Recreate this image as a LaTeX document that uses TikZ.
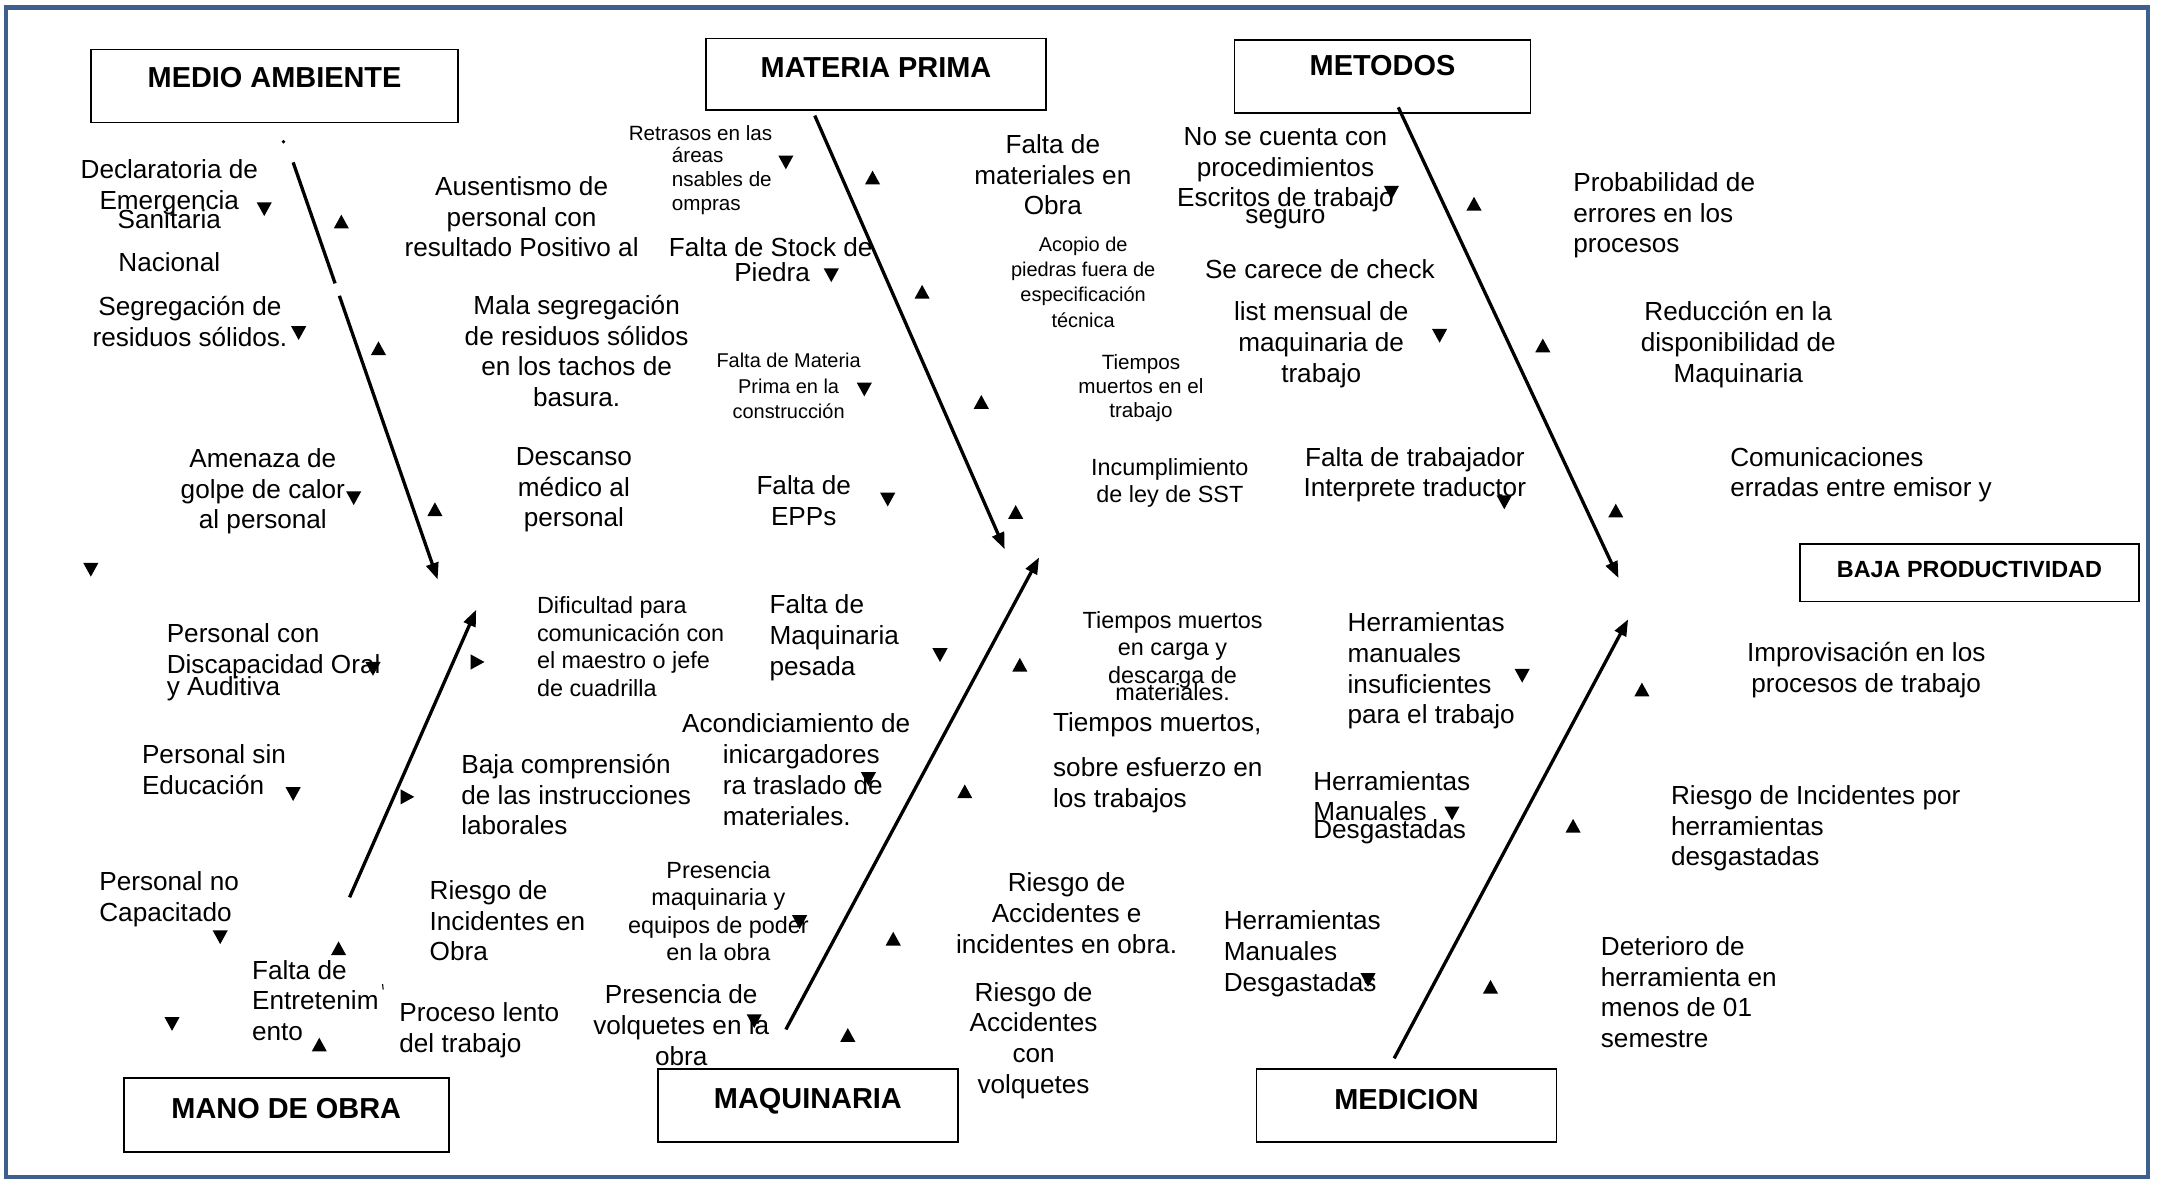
\documentclass[tikz,border=0pt]{standalone}
\usepackage{fontspec}
\setmainfont{Liberation Sans}
\usetikzlibrary{calc,arrows.meta}
\definecolor{framecol}{RGB}{62,96,143}
\begin{document}
\begin{tikzpicture}[x=1pt,y=-1pt,
  every node/.style={inner sep=0pt},
  tx/.style={font=\fontsize{19}{22.3}\selectfont, align=center, yshift=-1.5pt},
  txl/.style={tx, align=left, anchor=west},
  mtx/.style={font=\fontsize{17}{20}\selectfont, align=center, yshift=-1pt},
  mtxl/.style={mtx, align=left, anchor=west},
  stx/.style={font=\fontsize{15}{17.7}\selectfont, align=center, yshift=-1pt},
  stxl/.style={stx, align=left, anchor=west},
  xtx/.style={font=\fontsize{14.5}{18.3}\selectfont, align=center, yshift=-1pt},
  cat/.style={draw, line width=1.3pt, font=\bfseries\fontsize{21}{25}\selectfont, text height=15pt},
  spine/.style={line width=2.4pt},
  spinearrow/.style={spine, -{Triangle[length=12pt,width=9pt]}},
  triup/.pic={\fill (-5.5,5) -- (5.5,5) -- (0,-5) -- cycle;},
  tridn/.pic={\fill (-5.5,-5) -- (5.5,-5) -- (0,5) -- cycle;},
  trirt/.pic={\fill (-5,-5.5) -- (-5,5.5) -- (5,0) -- cycle;},
]
\useasboundingbox (0,0) rectangle (1568,858);
\draw[framecol, line width=3pt] (4.5,5.5) rectangle (1561,855.5);

% category boxes
\node[cat, minimum width=267pt, minimum height=53pt, text depth=13pt] (medio) at (199.5,62.5) {MEDIO AMBIENTE};
\node[cat, minimum width=247pt, minimum height=52pt, text depth=10pt] (materia) at (636.5,54) {MATERIA PRIMA};
\node[cat, minimum width=215pt, minimum height=53pt, text depth=16pt] (metodos) at (1004.5,55.5) {METODOS};
\node[cat, minimum width=246pt, minimum height=42pt, text height=12.2pt, text depth=4.5pt, font=\bfseries\fontsize{17}{20}\selectfont] (efecto) at (1431,416) {BAJA PRODUCTIVIDAD};
\node[cat, minimum width=236pt, minimum height=54pt, text depth=10pt] (mano) at (208,810) {MANO DE OBRA};
\node[cat, minimum width=218pt, minimum height=53pt, text depth=10.5pt] (maquinaria) at (587,803.5) {MAQUINARIA};
\node[cat, minimum width=218pt, minimum height=53pt, text depth=9pt] (medicion) at (1022,803.5) {MEDICION};

% spines
\coordinate (a1) at (213,118); \coordinate (b1) at (318,421);
\draw[spine] (a1) -- ($(a1)!0.29!(b1)$);
\draw[spinearrow] ($(a1)!0.32!(b1)$) -- (b1);
\fill (206,103) circle (1.3);
\coordinate (a2) at (254,652); \coordinate (b2) at (346,443);
\draw[spinearrow] (a2) -- (b2);
\coordinate (a3) at (592,84); \coordinate (b3) at (730,399);
\draw[spinearrow] (a3) -- (b3);
\coordinate (a4) at (571,748); \coordinate (b4) at (755,405);
\draw[spinearrow] (a4) -- (b4);
\coordinate (a5) at (1016,78); \coordinate (b5) at (1176,420);
\draw[spinearrow] (a5) -- (b5);
\coordinate (a6) at (1013,769); \coordinate (b6) at (1183,450);
\draw[spinearrow] (a6) -- (b6);

% MEDIO AMBIENTE texts
\node[tx] (declar) at (123,134.5) {Declaratoria de\\Emergencia};
\node[tx] (sanit) at (123,158) {Sanitaria};
\node[tx] (nacional) at (123,189) {Nacional};
\node[tx] (segreg) at (138,232) {Segregación de\\residuos sólidos.};
\node[tx] (ausent) at (379,156) {Ausentismo de\\personal con\\resultado Positivo al};
\node[tx] (mala) at (419,253.5) {Mala segregación\\de residuos sólidos\\en los tachos de\\basura.};
\node[tx] (amenaza) at (191,355.5) {Amenaza de\\golpe de calor\\al personal};
\node[tx] (descanso) at (417,354.5) {Descanso\\médico al\\personal};

% MANO DE OBRA texts
\node[txl] (discap) at (121,471.5) {Personal con\\Discapacidad Oral};
\node[txl] (auditiva) at (121,499) {y Auditiva};
\node[mtxl] (dificultad) at (390,469) {Dificultad para\\comunicación con\\el maestro o jefe\\de cuadrilla};
\node[txl] (sinedu) at (103,557.5) {Personal sin\\Educación};
\node[txl] (bajacomp) at (335,576) {Baja comprensión\\de las instrucciones\\laborales};
\node[txl] (nocap) at (72,652) {Personal no\\Capacitado};
\node[txl] (riesgoinc) at (312,667.5) {Riesgo de\\Incidentes en\\Obra};
\node[txl] (entret) at (183,725.5) {Falta de\\Entretenim\\ento};
\draw[line width=0.8pt] (278,715) -- (278.4,719);
\node[txl] (lento) at (290,747) {Proceso lento\\del trabajo};

% MATERIA PRIMA texts
\node[stx] (retrasos) at (509,96) {Retrasos en las};
\node[stxl] (areas) at (488,130.5) {áreas\\nsables de\\ompras};
\node[tx] (stock) at (560,178) {Falta de Stock de};
\node[tx] (piedra) at (561,196) {Piedra};
\node[xtx] (fmateria) at (573,279.5) {Falta de Materia\\Prima en la\\construcción};
\node[tx] (epps) at (584,362.5) {Falta de\\EPPs};
\node[tx] (fmat) at (765,125.5) {Falta de\\materiales en\\Obra};
\node[xtx] (acopio) at (787,204) {Acopio de\\piedras fuera de\\especificación\\técnica};
\node[stx] (tmuertos1) at (829,281) {Tiempos\\muertos en el\\trabajo};
\node[mtx] (incumpl) at (850,350) {Incumplimiento\\de ley de SST};

% MAQUINARIA texts
\node[txl] (fmaq) at (559,462) {Falta de\\Maquinaria\\pesada};
\node[mtx] (tcarga) at (852,471) {Tiempos muertos\\en carga y\\descarga de};
\node[mtx] (materiales1) at (852,502) {materiales.};
\node[tx] (acond) at (578.5,524) {Acondiciamiento de};
\node[txl] (inicarg) at (525,569) {inicargadores\\ra traslado de\\materiales.};
\node[txl] (tmuertos2) at (765,525) {Tiempos muertos,};
\node[txl] (sobre) at (765,569) {sobre esfuerzo en\\los trabajos};
\node[mtx] (presmaq) at (522,661) {Presencia\\maquinaria y\\equipos de poder\\en la obra};
\node[tx] (raccid) at (775,662) {Riesgo de\\Accidentes e\\incidentes en obra.};
\node[tx] (presvol) at (495,743.5) {Presencia de\\volquetes en la\\obra};
\node[tx] (rvol) at (751,754.5) {Riesgo de\\Accidentes\\con\\volquetes};

% METODOS texts
\node[tx] (nocuenta) at (934,122) {No se cuenta con\\procedimientos\\Escritos de trabajo};
\node[tx] (seguro) at (934,158) {seguro};
\node[tx] (carece) at (959,194) {Se carece de check};
\node[tx] (listm) at (960,249) {list mensual de\\maquinaria de\\trabajo};
\node[tx] (ftrab) at (1028,343.5) {Falta de trabajador\\Interprete traductor};
\node[txl] (prob) at (1143,155) {Probabilidad de\\errores en los\\procesos};
\node[tx] (reduc) at (1263,249) {Reducción en la\\disponibilidad de\\Maquinaria};
\node[txl] (comun) at (1257,343.5) {Comunicaciones\\erradas entre emisor y};

% MEDICION texts
\node[txl] (hinsuf) at (979,486) {Herramientas\\manuales\\insuficientes\\para el trabajo};
\node[tx] (improv) at (1356,485.5) {Improvisación en los\\procesos de trabajo};
\node[txl] (hdesg1) at (954,577) {Herramientas\\Manuales};
\node[txl] (hdesg1b) at (954,603) {Desgastadas};
\node[txl] (rinc) at (1214,600.5) {Riesgo de Incidentes por\\herramientas\\desgastadas};
\node[txl] (hdesg2) at (889,691.5) {Herramientas\\Manuales\\Desgastadas};
\node[txl] (deterioro) at (1163,719.5) {Deterioro de\\herramienta en\\menos de 01\\semestre};

% triangles
\foreach \p in {(192,152),(217,242),(257,362),(66,414),(271,486),(213,577),(160,681),(125,744),(571,118),(604,200),(628,283),(645,363),(683,476),(631,566),(581,670),(548,742),(1011,140),(1046,244),(1093,365),(1106,491),(1055,591),(994,712)}
  \pic at \p {tridn};
\foreach \p in {(248,161),(275,253),(316,370),(246,689),(232,759),(634,129),(670,212),(713,292),(738,372),(741,483),(701,575),(649,682),(616,752),(1071,148),(1121,251),(1174,371),(1193,501),(1143,600),(1083,717)}
  \pic at \p {triup};
\foreach \p in {(347,481),(296,579)}
  \pic at \p {trirt};
\end{tikzpicture}
\end{document}
